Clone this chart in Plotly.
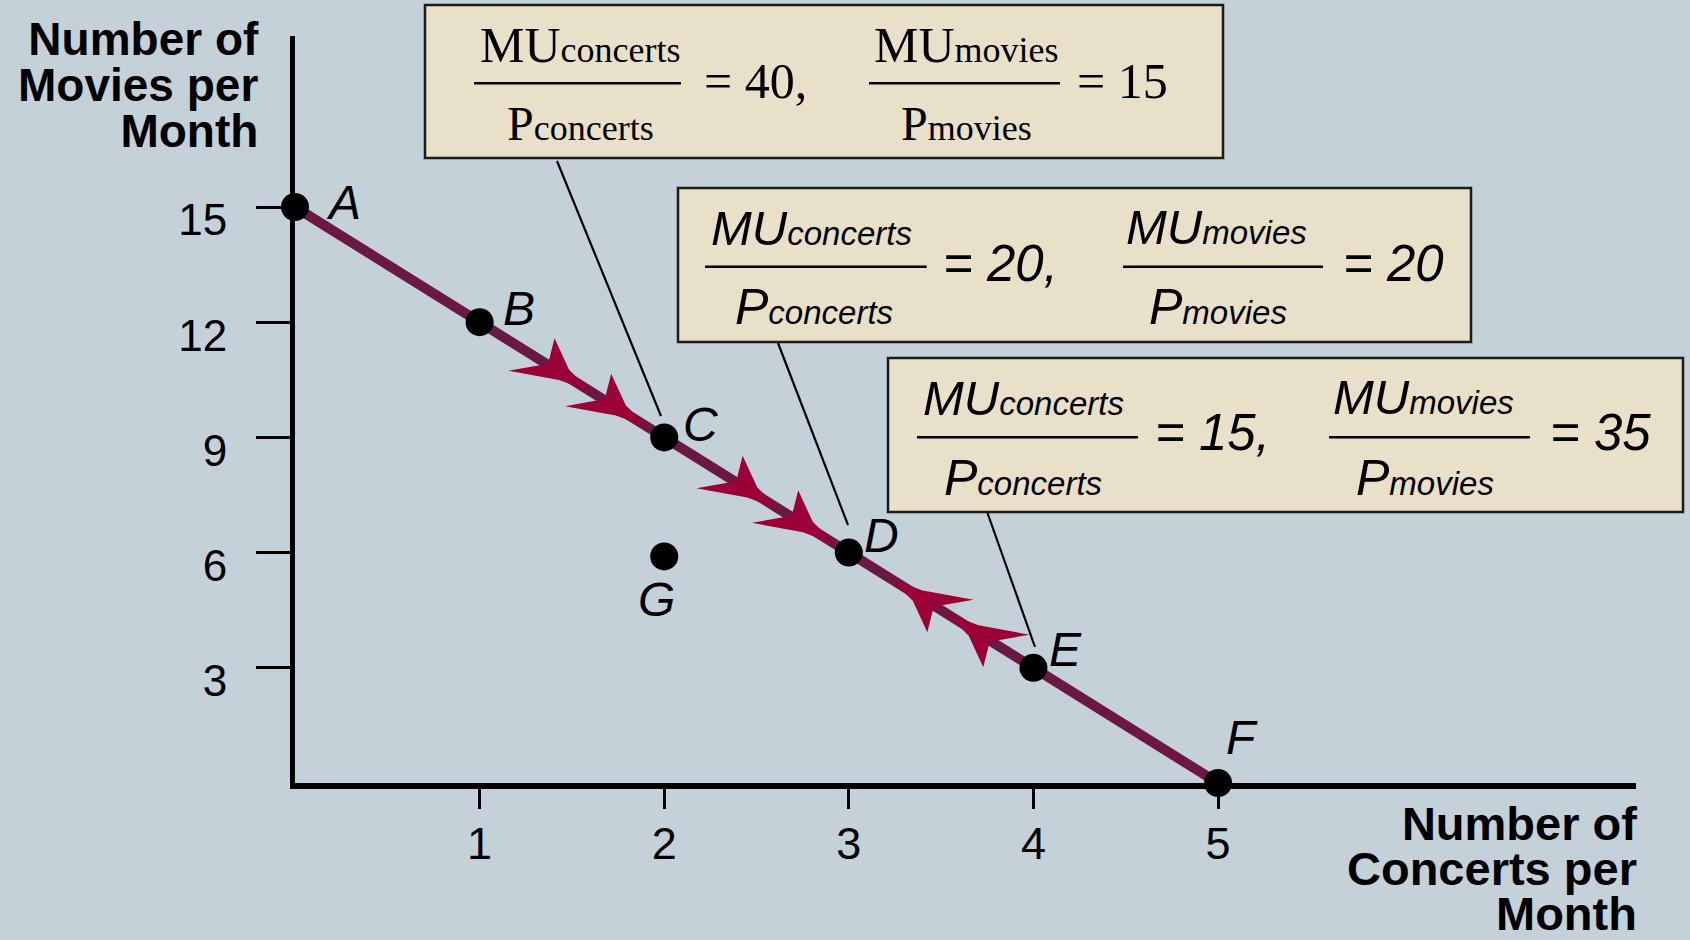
import numpy as np
import plotly.graph_objects as go

# ---------------- data ----------------
point_labels = ["A", "B", "C", "D", "E", "F"]
concerts = [0, 1, 2, 3, 4, 5]
movies = [15, 12, 9, 6, 3, 0]
g_label = "G"
g_concerts = 2
g_movies = 5.9
x_ticks = [1, 2, 3, 4, 5]
y_ticks = [3, 6, 9, 12, 15]
# arrowheads along the budget line (x of tip, direction: +1 toward F, -1 toward A)
arrow_x = [1.607, 1.914, 2.626, 2.927, 3.224, 3.527]
arrow_dir = [1, 1, 1, 1, -1, -1]
# axis titles
y_title_lines = ["Number of", "Movies per", "Month"]
x_title_lines = ["Number of", "Concerts per", "Month"]
# box texts
box_fracs = [
    [("MU", "concerts", "P", "concerts", "= 40,"), ("MU", "movies", "P", "movies", "= 15")],
    [("MU", "concerts", "P", "concerts", "= 20,"), ("MU", "movies", "P", "movies", "= 20")],
    [("MU", "concerts", "P", "concerts", "= 15,"), ("MU", "movies", "P", "movies", "= 35")],
]

# ---------------- layout constants ----------------
W, H = 1690, 940
L, R, T, B = 295, 54, 36, 157
PW, PH = W - L - R, H - T - B
XMAX, YMAX = 7.264, 19.453
PXX, PXY = PW / XMAX, PH / YMAX

BG = "#c5d1d9"
BOX_FILL = "#e9e0ca"
LINE_C = "#6b1842"
ARROW_C = "#9b0036"
SANS = "Liberation Sans, Arial, sans-serif"
SERIF = "Liberation Serif, Times New Roman, serif"


def pxp(px):
    return (px - L) / PW


def pyp(py):
    return (H - B - py) / PH


fig = go.Figure()
fig.add_trace(go.Scatter(x=concerts, y=movies, mode="lines",
                         line=dict(color=LINE_C, width=10), cliponaxis=False,
                         hoverinfo="skip", showlegend=False))
fig.add_trace(go.Scatter(x=concerts + [g_concerts], y=movies + [g_movies], mode="markers",
                         marker=dict(color="black", size=28), cliponaxis=False,
                         hoverinfo="skip", showlegend=False))

shapes = []
annotations = []

# arrowheads (pixel-sized paths anchored on the line)
local = [(0, 0), (31, 7), (60, 26), (52, 1), (82, -26), (34, -7)]
for ax_, dr in zip(arrow_x, arrow_dir):
    ay = float(np.interp(ax_, concerts, movies))
    slope = (movies[1] - movies[0]) / (concerts[1] - concerts[0])
    dx, dy = PXX * 1.0, -slope * PXY  # screen (y down)
    n = np.hypot(dx, dy)
    dx, dy = dr * dx / n, dr * dy / n
    nx, ny = dy, -dx
    pts = []
    for u, v in local:
        sx = -u * dx + v * nx
        sy = -u * dy + v * ny
        pts.append((sx, -sy))
    path = "M " + " L ".join(f"{a:.2f},{b:.2f}" for a, b in pts) + " Z"
    shapes.append(dict(type="path", xref="x", yref="y", xsizemode="pixel", ysizemode="pixel",
                       xanchor=ax_, yanchor=ay, path=path, fillcolor=ARROW_C,
                       line=dict(width=0), layer="above"))

# point labels
label_offsets = [(48, 4.6), (39.4, 13.3), (36, 12.7), (33, 17), (31.6, 18), (24, 45.7)]
for lab, x, y, (ox, oy) in zip(point_labels, concerts, movies, label_offsets):
    annotations.append(dict(x=x, y=y, xref="x", yref="y", text=lab, showarrow=False,
                            xshift=ox, yshift=oy, xanchor="center", yanchor="middle",
                            font=dict(family=SANS, size=48, color="black", style="italic")))
annotations.append(dict(x=g_concerts, y=g_movies, xref="x", yref="y", text=g_label, showarrow=False,
                        xshift=-8, yshift=-43.4, xanchor="center", yanchor="middle",
                        font=dict(family=SANS, size=48, color="black", style="italic")))


# axis titles: tight line spacing via small base font + larger inner spans
def title_text(lines, size):
    return "<br>".join(f"<span style='font-size:{size}px'><b>{t}</b></span>" for t in lines)


annotations.append(dict(x=pxp(261), y=pyp(55 - 0.905 * 46 - 2), xref="paper", yref="paper",
                        text=title_text(y_title_lines, 46), showarrow=False,
                        xanchor="right", yanchor="top", align="right",
                        font=dict(family=SANS, size=35.5, color="black")))
annotations.append(dict(x=pxp(1639), y=pyp(840 - 0.905 * 47 - 2), xref="paper", yref="paper",
                        text=title_text(x_title_lines, 47), showarrow=False,
                        xanchor="right", yanchor="top", align="right",
                        font=dict(family=SANS, size=34.6, color="black")))

# boxes
box_rects = [(425, 5, 1223, 158), (678, 188, 1471, 342), (888, 358, 1683, 512)]
for x0, y0, x1, y1 in box_rects:
    shapes.append(dict(type="rect", xref="paper", yref="paper", x0=pxp(x0), x1=pxp(x1),
                       y0=pyp(y0), y1=pyp(y1), fillcolor=BOX_FILL,
                       line=dict(color="#1a1a1a", width=2.5), layer="above"))

# leader lines
leaders = [((557, 161), (661, 416)), ((778, 343), (848, 525)), ((987.5, 513), (1035, 647))]
for (x0, y0), (x1, y1) in leaders:
    shapes.append(dict(type="line", xref="paper", yref="paper", x0=pxp(x0), y0=pyp(y0),
                       x1=pxp(x1), y1=pyp(y1), line=dict(color="black", width=2.2), layer="above"))

# fraction layout per box: (num center, num base, bar x0, bar x1, bar y, den center, den base, eq center, eq base)
frac_geo = [
    [(580, 61.7, 474, 681, 83.3, 580, 140, 755, 98.3), (966, 61.7, 869, 1060, 83.3, 966, 140, 1122, 98.3)],
    [(811.7, 245, 705, 926.7, 266.7, 814, 324, 1000.8, 281.5), (1216.5, 244, 1123, 1323, 266.7, 1217.5, 324, 1393, 281.5)],
    [(1023, 415, 917, 1138, 437.3, 1023, 495, 1212, 450), (1423.6, 414, 1329, 1530, 437.3, 1425, 495, 1600, 450)],
]
for bi, (fr_texts, fr_geo) in enumerate(zip(box_fracs, frac_geo)):
    serif = bi == 0
    fam = SERIF if serif else SANS
    sty = "normal" if serif else "italic"
    big = 50 if serif else 49
    pbig = 48 if serif else 50
    eqs = 50 if serif else 51
    sub = 36 if serif else 33
    k = 0.3375 if serif else 0.3465
    for (mu, sn, p, sd, eq), (nc, nb, bx0, bx1, by, dc, db, ec, eb) in zip(fr_texts, fr_geo):
        annotations.append(dict(x=pxp(nc), y=pyp(nb - k * big), xref="paper", yref="paper",
                                text=f"{mu}<span style='font-size:{sub}px'>{sn}</span>",
                                showarrow=False, xanchor="center", yanchor="middle",
                                font=dict(family=fam, size=big, color="black", style=sty)))
        annotations.append(dict(x=pxp(dc), y=pyp(db - k * pbig), xref="paper", yref="paper",
                                text=f"{p}<span style='font-size:{sub}px'>{sd}</span>",
                                showarrow=False, xanchor="center", yanchor="middle",
                                font=dict(family=fam, size=pbig, color="black", style=sty)))
        annotations.append(dict(x=pxp(ec), y=pyp(eb - k * eqs), xref="paper", yref="paper",
                                text=eq, showarrow=False, xanchor="center", yanchor="middle",
                                font=dict(family=fam, size=eqs, color="black", style=sty)))
        shapes.append(dict(type="line", xref="paper", yref="paper", x0=pxp(bx0), x1=pxp(bx1),
                           y0=pyp(by), y1=pyp(by), line=dict(color="black", width=2.5), layer="above"))

fig.update_layout(
    width=W, height=H, margin=dict(l=L, r=R, t=T, b=B, autoexpand=False),
    paper_bgcolor=BG, plot_bgcolor=BG, showlegend=False,
    shapes=shapes, annotations=annotations,
    xaxis=dict(range=[0, XMAX], showgrid=False, zeroline=False, showline=True, linewidth=6,
               linecolor="black", ticks="outside", ticklen=20, tickwidth=2.5, tickcolor="black",
               tickvals=x_ticks, ticktext=[str(v) for v in x_ticks],
               tickfont=dict(family=SANS, size=45, color="black"), ticklabelstandoff=-4),
    yaxis=dict(range=[0, YMAX], showgrid=False, zeroline=False, showline=True, linewidth=5,
               linecolor="black", ticks="outside", ticklen=34, tickwidth=2.5, tickcolor="black",
               tickvals=y_ticks, ticktext=[str(v) for v in y_ticks],
               tickfont=dict(family=SANS, size=44, color="black"), ticklabelstandoff=20,
               ticklabelshift=13),
)
fig.write_html("out.html", config={"displayModeBar": False},
               post_script="document.body.style.margin='0';document.body.style.overflow='hidden';")
